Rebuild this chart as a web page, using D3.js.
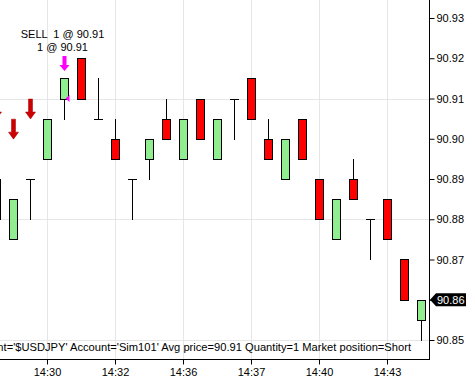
<!DOCTYPE html>
<html>
<head>
<meta charset="utf-8">
<script src="https://cdn.jsdelivr.net/npm/d3@7"></script>
<style>
  html, body { margin: 0; padding: 0; background: #fff; }
  svg { display: block; font-family: "Liberation Sans", Arial, sans-serif; }
  text { white-space: pre; }
</style>
</head>
<body>
<svg id="chart" width="475" height="381"></svg>
<script>
// ---- Data ----
const opens  = [90.89, 90.875, 90.89, 90.895, 90.91, 90.92, 90.905, 90.90, 90.89, 90.895, 90.905, 90.895, 90.91, 90.895, 90.91, 90.915, 90.90, 90.89, 90.905, 90.89, 90.875, 90.89, 90.88, 90.885, 90.87, 90.855];
const highs  = [90.89, 90.885, 90.89, 90.905, 90.915, 90.92, 90.915, 90.905, 90.89, 90.90, 90.91, 90.905, 90.91, 90.905, 90.91, 90.915, 90.905, 90.90, 90.905, 90.89, 90.885, 90.895, 90.88, 90.885, 90.87, 90.86];
const lows   = [90.88, 90.875, 90.88, 90.895, 90.905, 90.91, 90.905, 90.895, 90.88, 90.89, 90.90, 90.895, 90.90, 90.895, 90.90, 90.905, 90.895, 90.89, 90.895, 90.88, 90.875, 90.885, 90.87, 90.875, 90.86, 90.85];
const closes = [90.88, 90.885, 90.89, 90.905, 90.915, 90.91, 90.905, 90.895, 90.89, 90.90, 90.90, 90.905, 90.90, 90.905, 90.91, 90.905, 90.895, 90.90, 90.895, 90.88, 90.885, 90.885, 90.88, 90.875, 90.86, 90.86];

const timeTickIndex  = [3, 7, 11, 15, 19, 23];
const timeTickLabels = ["14:30", "14:32", "14:36", "14:37", "14:40", "14:43"];

const priceTicks = [90.85, 90.86, 90.87, 90.88, 90.89, 90.90, 90.91, 90.92, 90.93];
const priceGrid  = [90.85, 90.88, 90.91];

const signalIndex = [0, 1, 2];          // red sell-signal arrows above these bars
const execIndex = 4;                    // execution bar
const execPrice = 90.91;
const execLines = ["SELL  1 @ 90.91", "1 @ 90.91"];
const lastPrice = 90.86;
const positionText = "Instrument='$USDJPY' Account='Sim101' Avg price=90.91 Quantity=1 Market position=Short";

// ---- Layout ----
const plotRight = 429, plotBottom = 359;

const svg = d3.select("#chart");

const x = d3.scaleLinear().domain([0, opens.length - 1]).range([-4, 421]);
const y = d3.scaleLinear().domain([90.85, 90.93]).range([340, 18]);

const candles = opens.map((o, i) => ({ i, o, h: highs[i], l: lows[i], c: closes[i] }));
const px = v => Math.round(v);

// grid
const grid = svg.append("g").attr("stroke", "#e6e6e6").attr("stroke-width", 1);
grid.selectAll("line.h").data(priceGrid).join("line").attr("class", "h")
  .attr("x1", 0).attr("x2", plotRight)
  .attr("y1", d => px(y(d)) + 0.5).attr("y2", d => px(y(d)) + 0.5);
grid.selectAll("line.v").data(timeTickIndex).join("line").attr("class", "v")
  .attr("y1", 0).attr("y2", plotBottom)
  .attr("x1", d => px(x(d)) + 0.5).attr("x2", d => px(x(d)) + 0.5);

// position text (clipped at the left edge, as in the original)
svg.append("text")
  .attr("x", 411).attr("y", 351)
  .attr("text-anchor", "end")
  .attr("font-size", 11.15)
  .attr("fill", "#000")
  .text(positionText);

// candles
const cg = svg.append("g");
cg.selectAll("line.wick").data(candles).join("line").attr("class", "wick")
  .attr("x1", d => px(x(d.i)) + 0.5).attr("x2", d => px(x(d.i)) + 0.5)
  .attr("y1", d => px(y(d.h))).attr("y2", d => px(y(d.l)) + 1)
  .attr("stroke", "#000").attr("stroke-width", 1);

cg.selectAll("rect.body").data(candles.filter(d => d.o !== d.c)).join("rect").attr("class", "body")
  .attr("x", d => px(x(d.i)) - 3.5)
  .attr("width", 8)
  .attr("y", d => px(y(Math.max(d.o, d.c))) + 0.5)
  .attr("height", d => px(y(Math.min(d.o, d.c))) - px(y(Math.max(d.o, d.c))))
  .attr("fill", d => d.c > d.o ? "#90ee90" : "#ff0000")
  .attr("stroke", "#000").attr("stroke-width", 1);

cg.selectAll("line.doji").data(candles.filter(d => d.o === d.c)).join("line").attr("class", "doji")
  .attr("x1", d => px(x(d.i)) - 4).attr("x2", d => px(x(d.i)) + 5)
  .attr("y1", d => px(y(d.o)) + 0.5).attr("y2", d => px(y(d.o)) + 0.5)
  .attr("stroke", "#000").attr("stroke-width", 1);

// arrow path: down arrow with tip at (cx, tipY)
function downArrow(cx, tipY, len, shaftW, headW, headH) {
  const top = tipY - len, hb = tipY - headH;
  return `M${cx - shaftW / 2},${top} L${cx + shaftW / 2},${top} L${cx + shaftW / 2},${hb} L${cx + headW / 2},${hb} L${cx},${tipY} L${cx - headW / 2},${hb} L${cx - shaftW / 2},${hb} Z`;
}

// red sell signal arrows
svg.selectAll("path.sig").data(signalIndex).join("path").attr("class", "sig")
  .attr("d", i => downArrow(px(x(i)) + 0.5, y(highs[i]) - 60, 20, 4, 10, 7))
  .attr("fill", "#cc0000").attr("stroke", "#a00000").attr("stroke-width", 0.5);

// execution marker
const ex = px(x(execIndex)) + 0.5;
svg.append("path")
  .attr("d", downArrow(ex, y(highs[execIndex]) - 7.5, 15, 4, 10, 6))
  .attr("fill", "#ff00ff");
const ey = y(execPrice);
svg.append("path")
  .attr("d", `M${ex + 1},${ey} L${ex + 5},${ey - 3.5} L${ex + 5},${ey + 3.5} Z`)
  .attr("fill", "#ff00ff");
svg.selectAll("text.exec").data(execLines).join("text").attr("class", "exec")
  .attr("x", ex - 2).attr("y", (d, k) => 38 + k * 12.5)
  .attr("text-anchor", "middle").attr("font-size", 11).attr("fill", "#000")
  .text(d => d);

// axes
const yAxis = d3.axisRight(y).tickValues(priceTicks).tickFormat(d3.format(".2f"))
  .tickSize(5).tickSizeOuter(0).tickPadding(2);
const gy = svg.append("g").attr("transform", `translate(${plotRight + 0.5},0)`).call(yAxis);
gy.select(".domain").remove();
gy.selectAll("text").attr("font-size", 11).attr("font-family", "Liberation Sans, Arial, sans-serif").attr("fill", "#000");
gy.selectAll("line").attr("stroke", "#000");

const xAxis = d3.axisBottom(x).tickValues(timeTickIndex)
  .tickFormat((d, k) => timeTickLabels[k]).tickSize(5).tickSizeOuter(0).tickPadding(4);
const gx = svg.append("g").attr("transform", `translate(0,${plotBottom + 0.5})`).call(xAxis);
gx.select(".domain").remove();
gx.selectAll(".tick").attr("transform", d => `translate(${px(x(d)) + 0.5},0)`);
gx.selectAll("text").attr("font-size", 11).attr("font-family", "Liberation Sans, Arial, sans-serif").attr("fill", "#000");
gx.selectAll("line").attr("stroke", "#000");

// axis frame lines
svg.append("line").attr("x1", plotRight + 0.5).attr("x2", plotRight + 0.5).attr("y1", 0).attr("y2", plotBottom + 1)
  .attr("stroke", "#000");
svg.append("line").attr("x1", 0).attr("x2", plotRight + 1).attr("y1", plotBottom + 0.5).attr("y2", plotBottom + 0.5)
  .attr("stroke", "#000");

// last price marker
const ly = y(lastPrice);
svg.append("path")
  .attr("d", `M${plotRight + 1},${ly} L${plotRight + 7},${ly - 6.5} L${plotRight + 37},${ly - 6.5} L${plotRight + 37},${ly + 6.5} L${plotRight + 7},${ly + 6.5} Z`)
  .attr("fill", "#000");
svg.append("text")
  .attr("x", plotRight + 8).attr("y", ly).attr("dy", "0.35em")
  .attr("font-size", 11).attr("fill", "#fff")
  .text(d3.format(".2f")(lastPrice));
</script>
</body>
</html>
